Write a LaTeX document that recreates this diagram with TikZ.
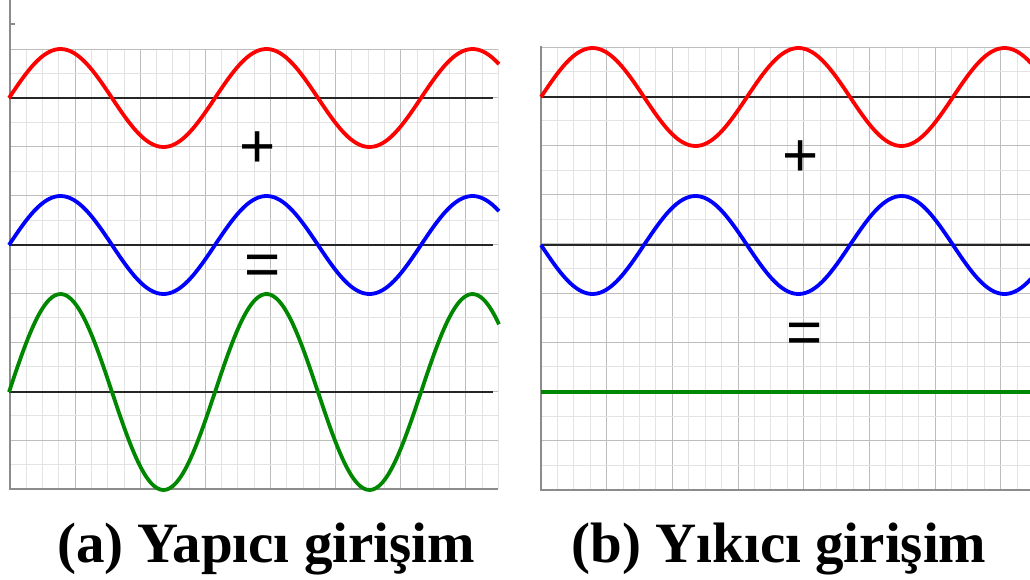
\documentclass[tikz,border=0pt]{standalone}
\usepackage{fontspec}
\setmainfont{Liberation Serif}
\newfontfamily\signfont{Liberation Sans}
\usepackage{xcolor}
\definecolor{wavered}{RGB}{255,0,0}
\definecolor{waveblue}{RGB}{0,0,255}
\definecolor{wavegreen}{RGB}{0,135,0}
\tikzset{
  minorgrid/.style={draw=black!11,line width=0.9pt},
  majorgrid/.style={draw=black!26,line width=0.9pt},
  frame/.style={draw=black!45,line width=1.1pt},
  axisline/.style={draw=black!85,line width=1.1pt},
  wave/.style={line width=3.8pt,line join=round,smooth,samples=160},
  sign/.style={font=\signfont\fontsize{62}{62}\selectfont,inner sep=0pt},
  caption/.style={font=\bfseries\fontsize{57}{57}\selectfont,inner sep=0pt,anchor=base}
}

\begin{document}
\begin{tikzpicture}[x=1pt,y=-1pt]
\useasboundingbox (0,0) rectangle (1030,579);
% left panel: grid
\foreach \i in {1,...,30} \draw[minorgrid] ({10+16.28*\i},49) -- ({10+16.28*\i},489);
\foreach \i in {4,8,...,28} \draw[majorgrid] ({10+16.28*\i},49) -- ({10+16.28*\i},489);
\foreach \j in {1,3,...,17} \draw[minorgrid] (10,{49+24.44*\j}) -- (498,{49+24.44*\j});
\foreach \j in {0,2,...,16} \draw[majorgrid] (10,{49+24.44*\j}) -- (498,{49+24.44*\j});
\draw[frame] (10,0) -- (10,489) -- (498,489);
\draw[frame] (10,24) -- (15,24);
\foreach \y in {98,245,392} \draw[axisline] (9,\y) -- (493,\y);
% right panel: grid
\foreach \i in {1,...,29} \draw[minorgrid] ({541+16.42*\i},47) -- ({541+16.42*\i},490);
\foreach \i in {4,8,...,28} \draw[majorgrid] ({541+16.42*\i},47) -- ({541+16.42*\i},490);
\foreach \j in {1,3,...,17} \draw[minorgrid] (541,{47+24.6*\j}) -- (1030,{47+24.6*\j});
\foreach \j in {0,2,...,16} \draw[majorgrid] (541,{47+24.6*\j}) -- (1030,{47+24.6*\j});
\draw[frame] (541,46) -- (541,490) -- (1030,490);
\foreach \y in {97,245} \draw[axisline] (541,\y) -- (1030,\y);
% waves
\draw[wave,wavered] plot[domain=9:499] (\x,{98-49*sin((\x-9)*1.74757)});
\draw[wave,waveblue] plot[domain=9:499] (\x,{245-49*sin((\x-9)*1.74757)});
\draw[wave,wavegreen] plot[domain=9:499] (\x,{392-98*sin((\x-9)*1.74757)});
\draw[wave,wavered] plot[domain=541:1031] (\x,{97-49*sin((\x-541)*1.74757)});
\draw[wave,waveblue] plot[domain=541:1031] (\x,{245+49*sin((\x-541)*1.74757)});
\draw[wave,wavegreen] (541,392) -- (1031,392);
% signs and captions
\node[sign] (plusA) at (258,150) {+};
\node[sign] (eqA) at (263,270) {=};
\node[sign] (plusB) at (801,159) {+};
\node[sign] (eqB) at (805,338) {=};
\node[caption] (capA) at (266,562) {(a) Yapıcı girişim};
\node[caption] (capB) at (779,562) {(b) Yıkıcı girişim};
\end{tikzpicture}
\end{document}
